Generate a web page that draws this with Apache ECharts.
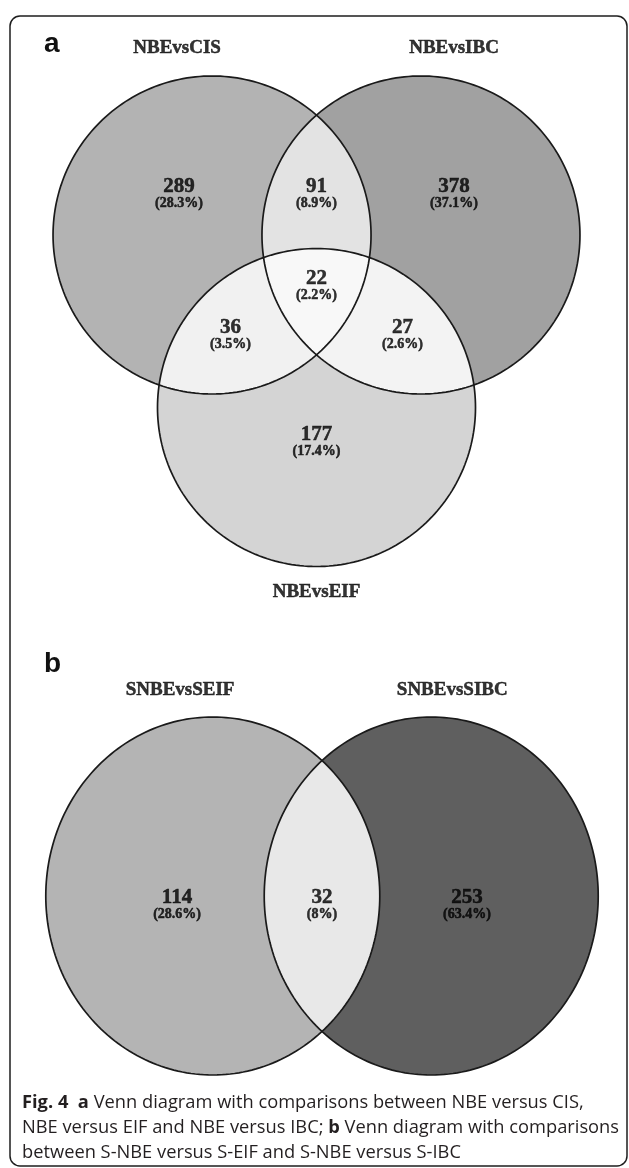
<!DOCTYPE html>
<html>
<head>
<meta charset="utf-8">
<script src="https://cdn.jsdelivr.net/npm/echarts@6/dist/echarts.min.js"></script>
<style>
  html, body { margin: 0; padding: 0; background: #fff; }
  #chart { width: 629px; height: 1168px; }
</style>
</head>
<body>
<div id="chart"></div>
<script>
// ---- data ----
// Panel a: three comparisons
const setsA = ['NBEvsCIS', 'NBEvsIBC', 'NBEvsEIF'];
// regions: CIS only, CIS∩IBC, IBC only, CIS∩EIF, all three, IBC∩EIF, EIF only
const regionsA = ['CIS', 'CIS&IBC', 'IBC', 'CIS&EIF', 'CIS&IBC&EIF', 'IBC&EIF', 'EIF'];
const countsA = [289, 91, 378, 36, 22, 27, 177];

// Panel b: two comparisons
const setsB = ['SNBEvsSEIF', 'SNBEvsSIBC'];
// regions: SEIF only, SEIF∩SIBC, SIBC only
const regionsB = ['SEIF', 'SEIF&SIBC', 'SIBC'];
const countsB = [114, 32, 253];

// ---- layout (unit circles, mapped to pixels by each panel's axes) ----
const layoutA = {
  ox: 316.5, oy: 235, sx: 159, sy: 159,
  xRange: [-1.9, 1.9], yRange: [-1.3, 2.4],
  circles: [{ x: -0.657, y: 0, r: 1 }, { x: 0.657, y: 0, r: 1 }, { x: 0, y: 1.085, r: 1 }],
  labelAt: [[-0.865, -0.252], [0, -0.252], [0.865, -0.252], [-0.541, 0.635], [0, 0.327], [0.541, 0.635], [0, 1.308]],
  nameAt: [[-0.877, -1.176], [0.865, -1.176], [0, 2.245]]
};
const layoutB = {
  ox: 322, oy: 896, sx: 167, sy: 179,
  xRange: [-1.8, 1.8], yRange: [-1.3, 1.3],
  circles: [{ x: -0.654, y: 0, r: 1 }, { x: 0.654, y: 0, r: 1 }],
  labelAt: [[-0.868, 0.056], [0, 0.056], [0.868, 0.056]],
  nameAt: [[-0.85, -1.151], [0.78, -1.151]]
};

// region fills
const fillsA = ['#b3b3b3', '#e3e3e3', '#a1a1a1', '#f1f1f1', '#f8f8f8', '#f3f3f3', '#d4d4d4'];
const fillsB = ['#b4b4b4', '#e8e8e8', '#5f5f5f'];
const strokeColor = '#1a1a1a';
const serif = '"Liberation Serif", "Times New Roman", serif';

// ---- geometry helpers ----
function intersect(c1, c2) {
  const dx = c2.x - c1.x, dy = c2.y - c1.y, d = Math.hypot(dx, dy);
  const a = (c1.r * c1.r - c2.r * c2.r + d * d) / (2 * d);
  const h = Math.sqrt(c1.r * c1.r - a * a);
  const mx = c1.x + a * dx / d, my = c1.y + a * dy / d;
  return [{ x: mx + h * dy / d, y: my - h * dx / d }, { x: mx - h * dy / d, y: my + h * dx / d }];
}
function inside(p, c) { return Math.hypot(p.x - c.x, p.y - c.y) < c.r - 1e-9; }
// sample the arc of circle c from p to q, taking the side whose midpoint passes test
function arc(c, p, q, test, n) {
  n = n || 90;
  const a1 = Math.atan2(p.y - c.y, p.x - c.x);
  const a2 = Math.atan2(q.y - c.y, q.x - c.x);
  let d1 = a2 - a1;
  while (d1 <= 0) d1 += 2 * Math.PI;
  const d2 = d1 - 2 * Math.PI;
  const at = t => ({ x: c.x + c.r * Math.cos(t), y: c.y + c.r * Math.sin(t) });
  const sweep = test(at(a1 + d1 / 2)) ? d1 : d2;
  const pts = [];
  for (let i = 0; i <= n; i++) { const t = a1 + sweep * i / n; const m = at(t); pts.push([m.x, m.y]); }
  return pts;
}
function disc(c, n) {
  n = n || 240;
  const pts = [];
  for (let i = 0; i < n; i++) { const t = 2 * Math.PI * i / n; pts.push([c.x + c.r * Math.cos(t), c.y + c.r * Math.sin(t)]); }
  return pts;
}
function lens(A, B) {
  const [P, Q] = intersect(A, B);
  return arc(A, P, Q, m => inside(m, B)).concat(arc(B, Q, P, m => inside(m, A)));
}
function triple(A, B, C) {
  const pAB = intersect(A, B).find(p => inside(p, C));
  const pAC = intersect(A, C).find(p => inside(p, B));
  const pBC = intersect(B, C).find(p => inside(p, A));
  return arc(A, pAB, pAC, m => inside(m, B) && inside(m, C))
    .concat(arc(C, pAC, pBC, m => inside(m, A) && inside(m, B)))
    .concat(arc(B, pBC, pAB, m => inside(m, A) && inside(m, C)));
}

// ---- shapes per panel ----
const [cis, ibc, eif] = layoutA.circles;
const shapesA = [
  { pts: disc(cis), fill: fillsA[0] },
  { pts: disc(ibc), fill: fillsA[2] },
  { pts: disc(eif), fill: fillsA[6] },
  { pts: lens(cis, ibc), fill: fillsA[1] },
  { pts: lens(cis, eif), fill: fillsA[3] },
  { pts: lens(ibc, eif), fill: fillsA[5] },
  { pts: triple(cis, ibc, eif), fill: fillsA[4] },
  { pts: disc(cis), outline: true },
  { pts: disc(ibc), outline: true },
  { pts: disc(eif), outline: true }
];
const [seif, sibc] = layoutB.circles;
const shapesB = [
  { pts: disc(seif), fill: fillsB[0] },
  { pts: disc(sibc), fill: fillsB[2] },
  { pts: lens(seif, sibc), fill: fillsB[1] },
  { pts: disc(seif), outline: true },
  { pts: disc(sibc), outline: true }
];

function pct(v, arr) {
  const t = arr.reduce((a, b) => a + b, 0);
  let s = (v / t * 100).toFixed(1);
  if (s.endsWith('.0')) s = s.slice(0, -2);
  return '(' + s + '%)';
}

function gridOf(L) {
  return {
    left: L.ox + L.xRange[0] * L.sx,
    width: (L.xRange[1] - L.xRange[0]) * L.sx,
    top: L.oy + L.yRange[0] * L.sy,
    height: (L.yRange[1] - L.yRange[0]) * L.sy,
    show: false
  };
}
function axesOf(L, i) {
  return {
    x: { type: 'value', gridIndex: i, min: L.xRange[0], max: L.xRange[1], show: false },
    y: { type: 'value', gridIndex: i, min: L.yRange[0], max: L.yRange[1], inverse: true, show: false }
  };
}

function shapeSeries(shapes, i) {
  return {
    type: 'custom', xAxisIndex: i, yAxisIndex: i, clip: false, silent: true,
    data: shapes.map((s, k) => [k]),
    renderItem: function (params, api) {
      const s = shapes[params.dataIndex];
      const points = s.pts.map(p => api.coord(p));
      return {
        type: 'polygon',
        shape: { points: points },
        style: s.outline
          ? { fill: 'none', stroke: strokeColor, lineWidth: 1.7 }
          : { fill: s.fill, stroke: 'none' }
      };
    },
    z: 2
  };
}

const ink = '#000';
// a hairline outline in the text colour gives the heavy print look
const heavy = { textBorderWidth: 0.5, textBorderColor: ink, textShadowBlur: 0 };
const countRich = {
  c: Object.assign({ fontFamily: serif, fontWeight: 'bold', fontSize: 21, color: ink, lineHeight: 17 }, heavy),
  p: Object.assign({ fontFamily: serif, fontWeight: 'bold', fontSize: 14, color: ink, lineHeight: 16 }, heavy)
};
function countSeries(L, counts, i) {
  return {
    type: 'scatter', xAxisIndex: i, yAxisIndex: i, symbolSize: 0, silent: true, clip: false,
    data: counts.map((v, k) => [L.labelAt[k][0], L.labelAt[k][1], v]),
    label: Object.assign({
      show: true, position: 'inside', color: ink,
      formatter: p => '{c|' + p.value[2] + '}\n{p|' + pct(p.value[2], counts) + '}',
      rich: countRich
    }, heavy),
    z: 5
  };
}
function nameSeries(L, names, i) {
  return {
    type: 'scatter', xAxisIndex: i, yAxisIndex: i, symbolSize: 0, silent: true, clip: false,
    data: names.map((n, k) => [L.nameAt[k][0], L.nameAt[k][1], n]),
    label: Object.assign({
      show: true, position: 'inside',
      formatter: p => p.value[2],
      fontFamily: serif, fontWeight: 'bold', fontSize: 19, color: ink
    }, heavy),
    z: 5
  };
}

const axA = axesOf(layoutA, 0), axB = axesOf(layoutB, 1);
const sans = '"Liberation Sans", Arial, sans-serif';
const capFont = '"Open Sans", "Noto Sans", sans-serif';
const capSize = 18.3;

const option = {
  animation: false,
  backgroundColor: '#fff',
  grid: [gridOf(layoutA), gridOf(layoutB)],
  xAxis: [axA.x, axB.x],
  yAxis: [axA.y, axB.y],
  title: [
    { text: 'a', left: 44, top: 30, padding: 0, textStyle: { fontFamily: sans, fontWeight: 'bold', fontSize: 28, color: '#111' } },
    { text: 'b', left: 44, top: 650, padding: 0, textStyle: { fontFamily: sans, fontWeight: 'bold', fontSize: 28, color: '#111' } },
    {
      text: '{b|Fig. 4}  {b|a} Venn diagram with comparisons between NBE versus CIS,\nNBE versus EIF and NBE versus IBC; {b|b} Venn diagram with comparisons\nbetween S-NBE versus S-EIF and S-NBE versus S-IBC',
      left: 22, top: 1090, padding: 0,
      textStyle: {
        fontFamily: capFont, fontSize: capSize, fontWeight: 'normal', color: '#231f20', lineHeight: 25,
        rich: {
          b: { fontFamily: capFont, fontSize: capSize, fontWeight: 'bold', color: '#231f20', lineHeight: 25 }
        }
      }
    }
  ],
  graphic: [
    {
      type: 'rect', silent: true, z: 0,
      shape: { x: 10, y: 16, width: 617, height: 1150, r: 10 },
      style: { fill: 'none', stroke: '#1e1e1e', lineWidth: 1.5 }
    }
  ],
  series: [
    shapeSeries(shapesA, 0),
    shapeSeries(shapesB, 1),
    countSeries(layoutA, countsA, 0),
    countSeries(layoutB, countsB, 1),
    nameSeries(layoutA, setsA, 0),
    nameSeries(layoutB, setsB, 1)
  ]
};

const chart = echarts.init(document.getElementById('chart'), null, { renderer: 'canvas' });
chart.setOption(option);
</script>
</body>
</html>
